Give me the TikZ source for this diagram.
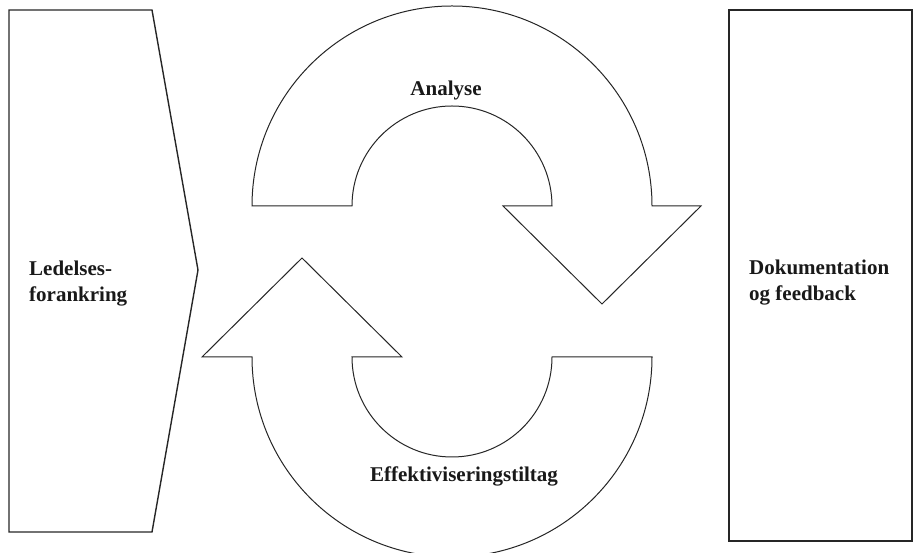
\documentclass[tikz,border=0pt]{standalone}
\usepackage{fontspec}
\setmainfont{Liberation Serif}
\begin{document}
\begin{tikzpicture}[x=1pt,y=1pt,
  boxline/.style={draw=black!85, line width=1.4pt, line join=miter},
  arrowshape/.style={draw=black!85, line width=1pt, fill=white, line join=miter},
  lbl/.style={font=\fontsize{21}{26}\selectfont\bfseries, text=black!90, inner sep=0pt, align=left}]
\useasboundingbox (0,0) rectangle (915,553);
\clip (0,0) rectangle (915,553);
% left chevron box
\draw[boxline] (9,543) -- (152,543) -- (198,283) -- (152,21) -- (9,21) -- cycle;
% right box
\draw[boxline] (729,543) rectangle (912,12);
% top curved arrow
\draw[arrowshape] (252,347) arc[start angle=180,end angle=0,radius=200]
  -- (701,347) -- (602,249) -- (503,347) -- (552,347)
  arc[start angle=0,end angle=180,radius=100] -- cycle;
% bottom curved arrow
\draw[arrowshape] (652,196) arc[start angle=0,end angle=-180,radius=200]
  -- (202,196) -- (302,295) -- (402,196) -- (352,196)
  arc[start angle=180,end angle=360,radius=100] -- cycle;
% labels
\node[lbl, anchor=west] (lead) at (29,269) {Ledelses-\\forankring};
\node[lbl, anchor=west] (doc) at (749,270) {Dokumentation\\og feedback};
\node[lbl] (ana) at (446,463) {Analyse};
\node[lbl] (eff) at (464,77) {Effektiviseringstiltag};
\end{tikzpicture}
\end{document}
